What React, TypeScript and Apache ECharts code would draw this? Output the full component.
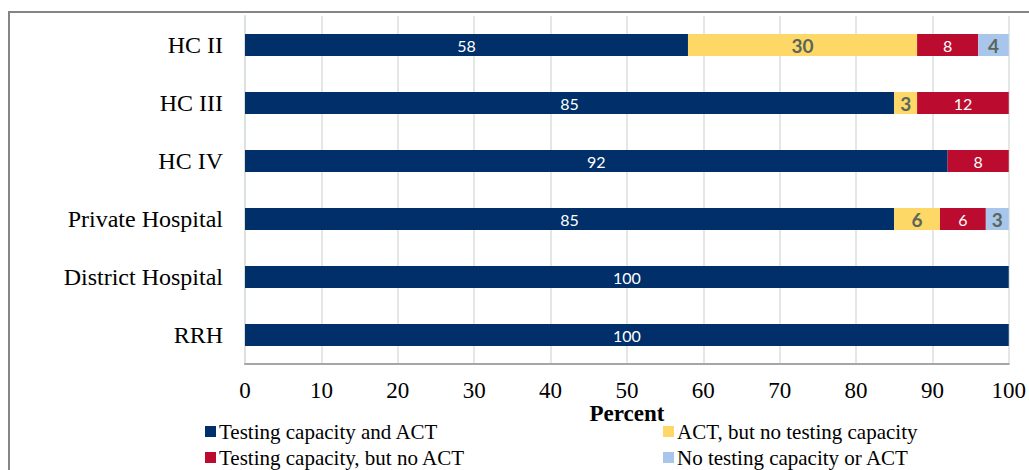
import React, { useEffect, useRef } from "react";
import * as echarts from "echarts";

const categories = ["HC II", "HC III", "HC IV", "Private Hospital", "District Hospital", "RRH"];
const seriesNames = [
  "Testing capacity and ACT",
  "ACT, but no testing capacity",
  "Testing capacity, but no ACT",
  "No testing capacity or ACT",
];
const testingAndACT = [58, 85, 92, 85, 100, 100];
const actNoTesting = [30, 3, 0, 6, 0, 0];
const testingNoACT = [8, 12, 8, 6, 0, 0];
const noneEither = [4, 0, 0, 3, 0, 0];
const xTicks = [0, 10, 20, 30, 40, 50, 60, 70, 80, 90, 100];

const colors = ["#002f6a", "#fdd866", "#bb0b2f", "#a8c6ec"];
const labelColors = ["#ffffff", "#5a665a", "#ffffff", "#5a665a"];
const labelBold = [false, true, false, true];

export default function App() {
  const ref = useRef<HTMLDivElement>(null);
  useEffect(() => {
    if (!ref.current) return;
    const chart = echarts.init(ref.current, undefined, { renderer: "svg" });
    const values = [testingAndACT, actNoTesting, testingNoACT, noneEither];
    const serif = "'Liberation Serif', 'Times New Roman', serif";
    const legendBase = {
      top: 421,
      height: 60,
      padding: 0,
      orient: "vertical",
      itemWidth: 11,
      itemHeight: 11,
      itemGap: 5,
      icon: "rect",
      textStyle: { fontFamily: serif, fontSize: 21, color: "#000", padding: [0, 0, 0, -2] },
    };
    chart.setOption({
      animation: false,
      grid: { left: 245, right: 12, top: 16, bottom: 106, containLabel: false },
      xAxis: {
        type: "value",
        min: xTicks[0],
        max: xTicks[xTicks.length - 1],
        interval: 10,
        name: "Percent",
        nameLocation: "middle",
        nameGap: 38,
        nameMoveOverlap: false,
        nameTextStyle: { fontFamily: serif, fontSize: 23, fontWeight: "bold", color: "#000" },
        axisLine: { show: true, lineStyle: { color: "#a6a6a6", width: 2 } },
        axisTick: { show: false },
        axisLabel: { fontFamily: serif, fontSize: 23, color: "#000", margin: 15 },
        splitLine: { show: true, lineStyle: { color: "#dbe1db", width: 1.5 } },
      },
      yAxis: {
        type: "category",
        data: categories,
        inverse: true,
        axisLine: { show: true, lineStyle: { color: "#dbe1db", width: 2 } },
        axisTick: { show: false },
        axisLabel: { fontFamily: serif, fontSize: 24, color: "#000", margin: 22 },
      },
      legend: [
        { ...legendBase, left: 205, data: [seriesNames[0], seriesNames[2]] },
        { ...legendBase, left: 663, data: [seriesNames[1], seriesNames[3]] },
      ],
      graphic: [
        { type: "line", shape: { x1: 9, y1: 12, x2: 9, y2: 470 }, style: { stroke: "#858585", lineWidth: 2 } },
        { type: "line", shape: { x1: 8, y1: 12, x2: 1029, y2: 12 }, style: { stroke: "#858585", lineWidth: 2 } },
      ],
      series: values.map((v, i) => ({
        name: seriesNames[i],
        type: "bar",
        stack: "total",
        barWidth: 22,
        data: v,
        itemStyle: { color: colors[i] },
        label: {
          show: true,
          position: "inside",
          color: labelColors[i],
          fontFamily: "Lato, 'Open Sans', sans-serif",
          fontSize: labelBold[i] ? 19 : 16,
          fontWeight: labelBold[i] ? "bold" : "normal",
          formatter: (p: any) => (p.value ? String(p.value) : ""),
        },
      })),
    });
    return () => chart.dispose();
  }, []);
  return <div ref={ref} style={{ position: "absolute", left: 0, top: 0, width: 1029, height: 470 }} />;
}
